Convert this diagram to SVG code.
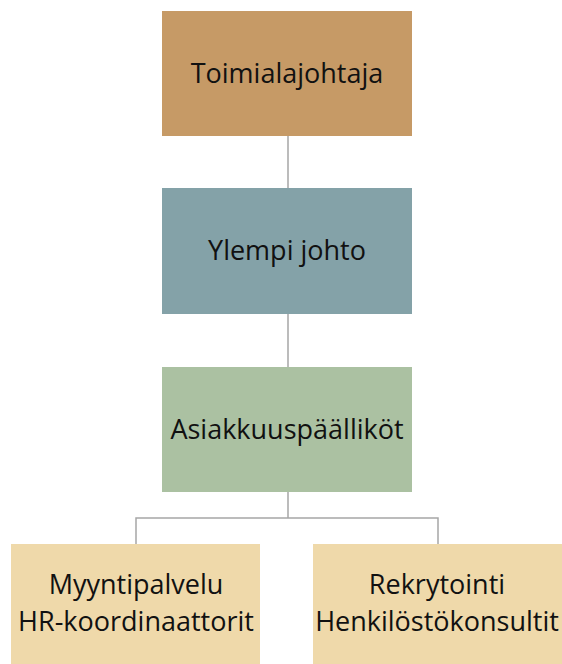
<svg xmlns="http://www.w3.org/2000/svg" width="562" height="664" viewBox="0 0 562 664">
<style>
.t{font-family:"Open Sans","Liberation Sans",sans-serif;font-size:27px;fill:#111;text-anchor:middle}
.c{fill:none;stroke:#a6a6a6;stroke-width:1.5}
</style>
<rect width="562" height="664" fill="#fff"/>
<g id="connectors">
<path class="c" d="M288,136V188"/>
<path class="c" d="M288,314V367"/>
<path class="c" d="M288,492V518H136V544M288,518H438V544"/>
</g>
<g id="n1"><rect x="162" y="11" width="250" height="125" fill="#c69a66"/><text class="t" x="287" y="83">Toimialajohtaja</text></g>
<g id="n2"><rect x="162" y="188" width="250" height="126" fill="#84a2a8"/><text class="t" x="287" y="260">Ylempi johto</text></g>
<g id="n3"><rect x="162" y="367" width="250" height="125" fill="#abc1a2"/><text class="t" x="287" y="439">Asiakkuuspäälliköt</text></g>
<g id="n4"><rect x="11" y="544" width="249" height="125" fill="#efd9aa"/><text class="t" x="136" y="594">Myyntipalvelu</text><text class="t" x="136" y="631">HR-koordinaattorit</text></g>
<g id="n5"><rect x="313" y="544" width="249" height="125" fill="#efd9aa"/><text class="t" x="437" y="594">Rekrytointi</text><text class="t" x="437" y="631">Henkilöstökonsultit</text></g>
</svg>
